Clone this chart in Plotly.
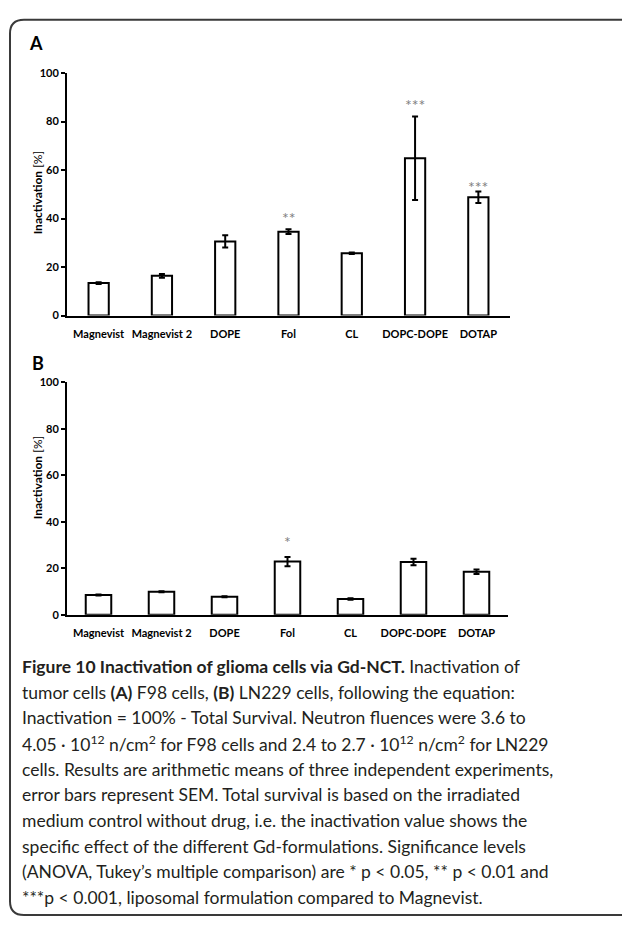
import plotly.graph_objects as go

W, H = 622, 925

categories = ["Magnevist", "Magnevist 2", "DOPE", "Fol", "CL", "DOPC-DOPE", "DOTAP"]

# Panel A: F98 cells
means_A = [13.4, 16.4, 30.6, 34.6, 25.7, 64.9, 48.8]
sem_A = [0.4, 0.8, 2.5, 1.0, 0.3, 17.2, 2.4]
stars_A = ["", "", "", "**", "", "***", "***"]
star_y_A = [None, None, None, 41.9, None, 88.6, 54.9]

# Panel B: LN229 cells
means_B = [8.5, 9.9, 7.8, 22.9, 6.8, 22.7, 18.5]
sem_B = [0.2, 0.2, 0.2, 2.0, 0.3, 1.4, 1.0]
stars_B = ["", "", "", "*", "", "", ""]
star_y_B = [None, None, None, 33.2, None, None, None]

y_ticks = [0, 20, 40, 60, 80, 100]

caption_lines = [
    "<b>Figure 10 Inactivation of glioma cells via Gd-NCT.</b> Inactivation of",
    "tumor cells <b>(A)</b> F98 cells, <b>(B)</b> LN229 cells, following the equation:",
    "Inactivation = 100% - Total Survival. Neutron fluences were 3.6 to",
    "4.05 · 10<sup>12</sup> n/cm<sup>2</sup> for F98 cells and 2.4 to 2.7 · 10<sup>12</sup> n/cm<sup>2</sup> for LN229",
    "cells. Results are arithmetic means of three independent experiments,",
    "error bars represent SEM. Total survival is based on the irradiated",
    "medium control without drug, i.e. the inactivation value shows the",
    "specific effect of the different Gd-formulations. Significance levels",
    "(ANOVA, Tukey’s multiple comparison) are * p &lt; 0.05, ** p &lt; 0.01 and",
    "***p &lt; 0.001, liposomal formulation compared to Magnevist.",
]

CHART_FONT = "Lato, 'Open Sans', sans-serif"
CAP_FONT = "Lato, 'Noto Sans', sans-serif"


def px_x(x):
    return x / W


def px_y(y):
    return 1 - y / H


fig = go.Figure()

fig.add_trace(go.Bar(
    x=categories, y=means_A, width=0.32,
    marker=dict(color="white", line=dict(color="black", width=2)),
    error_y=dict(type="data", array=sem_A, color="black", thickness=2, width=3),
    xaxis="x", yaxis="y", showlegend=False, hoverinfo="skip",
))
fig.add_trace(go.Bar(
    x=categories, y=means_B, width=0.405,
    marker=dict(color="white", line=dict(color="black", width=2)),
    error_y=dict(type="data", array=sem_B, color="black", thickness=2, width=3),
    xaxis="x2", yaxis="y2", showlegend=False, hoverinfo="skip",
))

axis_font = dict(family=CHART_FONT, size=11, color="black", weight="bold")
xcommon = dict(
    type="category", showline=True, linecolor="black", linewidth=2,
    ticks="", showgrid=False, zeroline=False, tickfont=axis_font,
    ticklabelstandoff=7, range=[-0.5, 6.5], fixedrange=True,
)
ycommon = dict(
    range=[0, 100], tickvals=y_ticks, showline=True, linecolor="black",
    linewidth=2, ticks="outside", ticklen=4, tickwidth=2, tickcolor="black",
    showgrid=False, zeroline=False, tickfont=axis_font, fixedrange=True,
)

annotations = []
for cats, sy, st, xr, yr in [(categories, star_y_A, stars_A, "x", "y"),
                             (categories, star_y_B, stars_B, "x2", "y2")]:
    for c, yv, s in zip(cats, sy, st):
        if s:
            annotations.append(dict(
                x=c, y=yv, xref=xr, yref=yr, text=s, showarrow=False,
                font=dict(family=CHART_FONT, size=16, color="#7f7f7f"),
                yanchor="middle", yshift=-4,
            ))

# panel letters
annotations.append(dict(x=px_x(36), y=px_y(37), xref="paper", yref="paper",
                        text="<b>A</b>", showarrow=False,
                        font=dict(family=CHART_FONT, size=18, color="black"),
                        xanchor="center", yanchor="middle"))
annotations.append(dict(x=px_x(38), y=px_y(361), xref="paper", yref="paper",
                        text="<b>B</b>", showarrow=False,
                        font=dict(family=CHART_FONT, size=18, color="black"),
                        xanchor="center", yanchor="middle"))

# y-axis titles
for yc in (189, 478):
    annotations.append(dict(x=px_x(37), y=px_y(yc), xref="paper", yref="paper",
                            text="<b>Inactivation</b> [%]", showarrow=False,
                            textangle=-90,
                            font=dict(family=CHART_FONT, size=12, color="black"),
                            xanchor="center", yanchor="middle"))

# caption
first_line = 669
spacing = 26
for i, line in enumerate(caption_lines):
    annotations.append(dict(x=px_x(20), y=px_y(first_line + i * spacing),
                            xref="paper", yref="paper", text=line,
                            showarrow=False, xanchor="left", yanchor="middle",
                            font=dict(family=CAP_FONT, size=17.5, color="#231f20")))

# rounded border (extends beyond right edge)
L, T, R, B_, r = 10, 13, 660, 921, 14
path = (f"M {px_x(L)},{px_y(T + r)} Q {px_x(L)},{px_y(T)} {px_x(L + r)},{px_y(T)} "
        f"L {px_x(R)},{px_y(T)} L {px_x(R)},{px_y(B_)} L {px_x(L + r)},{px_y(B_)} "
        f"Q {px_x(L)},{px_y(B_)} {px_x(L)},{px_y(B_ - r)} Z")

fig.update_layout(
    width=W, height=H,
    margin=dict(l=0, r=0, t=0, b=0),
    paper_bgcolor="white", plot_bgcolor="white",
    xaxis=dict(domain=[px_x(67), px_x(510)], anchor="y", **xcommon),
    yaxis=dict(domain=[px_y(313), px_y(67)], anchor="x", **ycommon),
    xaxis2=dict(domain=[px_x(67), px_x(508)], anchor="y2", **xcommon),
    yaxis2=dict(domain=[px_y(616.5), px_y(380.5)], anchor="x2", **ycommon),
    annotations=annotations,
    shapes=[dict(type="path", path=path, xref="paper", yref="paper",
                 line=dict(color="#3a3a3a", width=2), fillcolor="rgba(0,0,0,0)",
                 layer="below")],
)

fig.write_html("out.html")
